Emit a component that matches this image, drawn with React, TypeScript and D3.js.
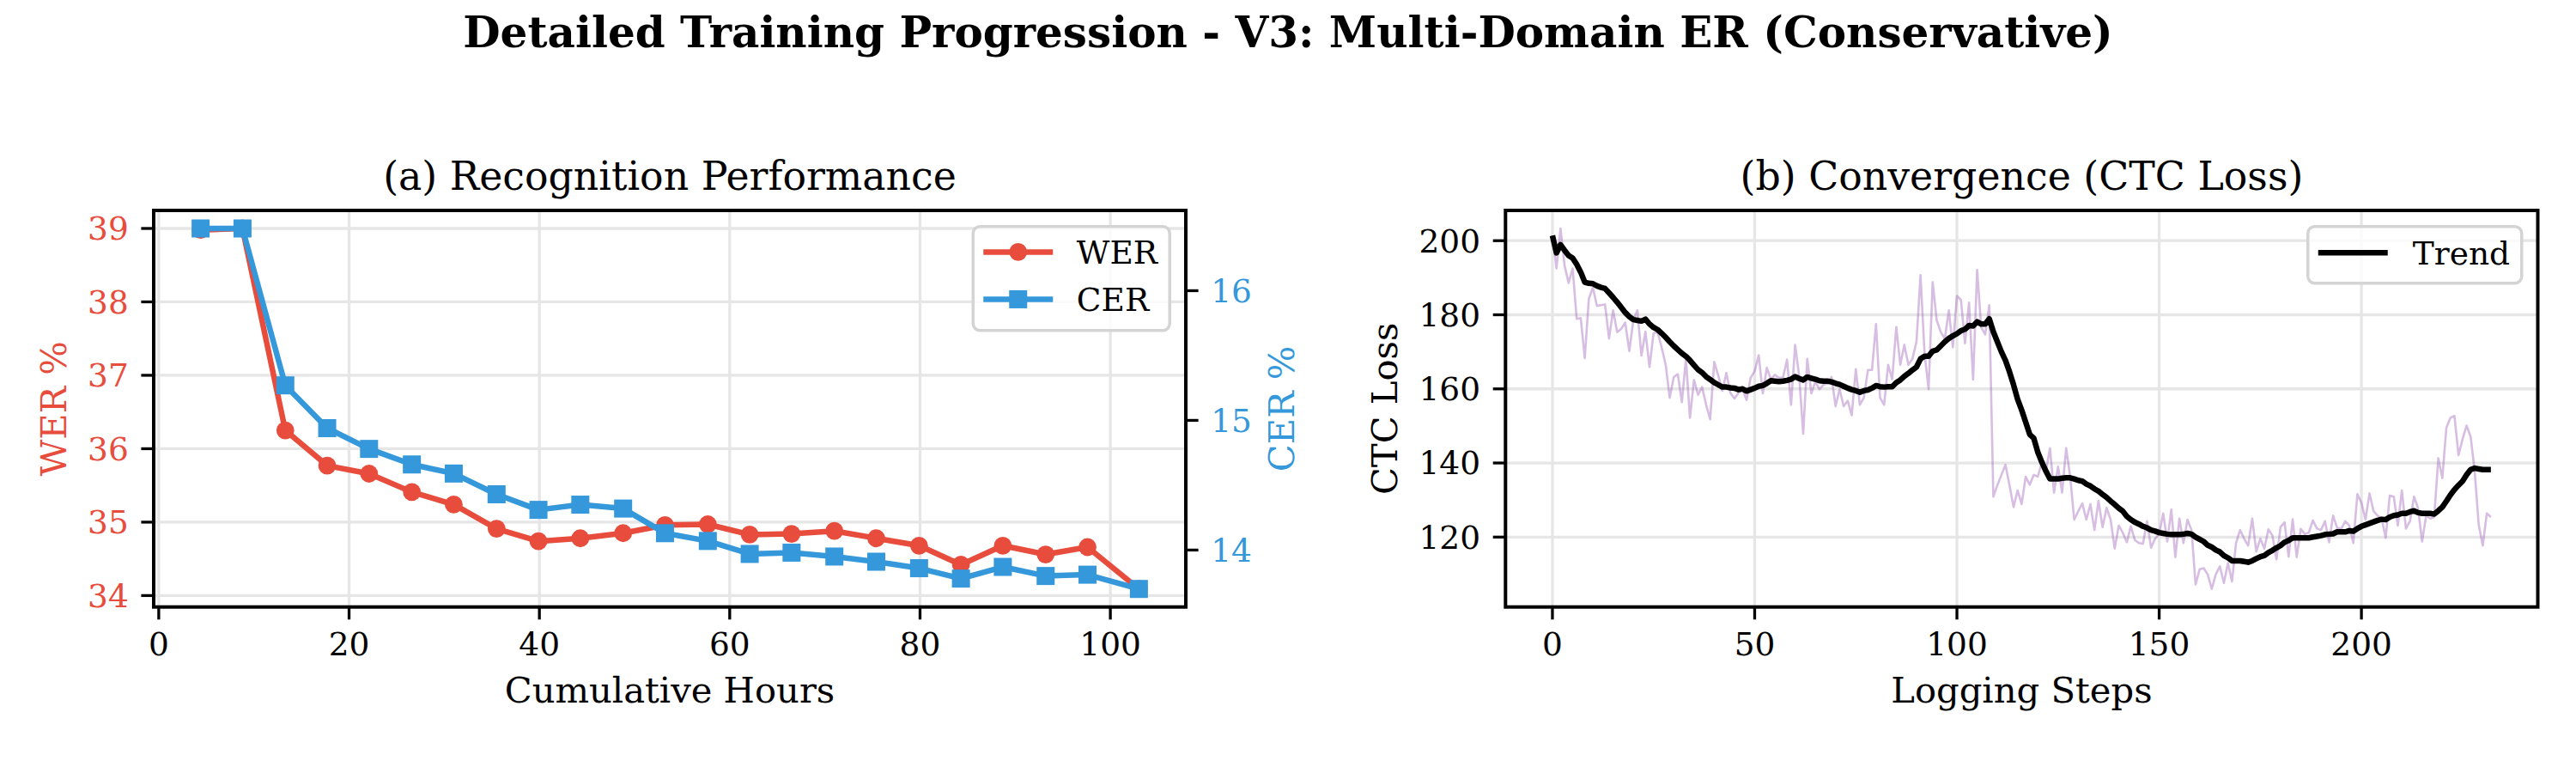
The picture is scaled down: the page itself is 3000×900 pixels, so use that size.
import React from 'react';
import * as d3 from 'd3';

// ---- data ----
const hours = [4.4, 8.8, 13.3, 17.7, 22.1, 26.6, 31.0, 35.5, 39.9, 44.3, 48.8, 53.2, 57.7, 62.1, 66.5, 71.0, 75.4, 79.9, 84.3, 88.7, 93.2, 97.6, 103.0];
const werValues = [38.98, 39.0, 36.25, 35.77, 35.66, 35.41, 35.24, 34.91, 34.74, 34.78, 34.85, 34.96, 34.97, 34.83, 34.84, 34.88, 34.78, 34.68, 34.42, 34.68, 34.56, 34.66, 34.09];
const cerValues = [16.48, 16.48, 15.27, 14.94, 14.78, 14.66, 14.59, 14.43, 14.31, 14.35, 14.32, 14.13, 14.07, 13.97, 13.98, 13.95, 13.91, 13.86, 13.78, 13.87, 13.80, 13.81, 13.70];

const rawLoss = [
  201.4, 192.5, 203.3, 193.3, 188.6, 192.5, 178.9, 179.1, 168.3, 184.3,
  187.4, 182.4, 182.6, 182.8, 173.6, 181.2, 175.3, 176.2, 177.9, 170.2,
  178.5, 181.2, 169.0, 175.4, 165.9, 175.0, 175.4, 171.2, 166.5, 157.6,
  163.2, 164.0, 156.4, 168.1, 152.2, 162.4, 158.4, 160.5, 155.7, 151.8,
  167.3, 163.6, 159.5, 164.3, 158.9, 157.4, 158.9, 159.9, 157.0, 163.0,
  164.8, 169.1, 158.8, 165.7, 162.6, 163.8, 163.0, 163.0, 167.9, 155.7,
  171.9, 163.5, 147.9, 168.1, 158.8, 161.9, 159.9, 161.1, 161.5, 163.2,
  155.3, 159.9, 155.3, 156.8, 152.9, 165.3, 155.7, 157.6, 165.1, 165.1,
  177.5, 157.6, 155.7, 166.5, 162.6, 176.7, 166.5, 171.9, 166.5, 168.1,
  172.7, 190.7, 169.6, 159.9, 188.8, 178.5, 175.4, 173.5, 181.2, 171.2,
  185.1, 184.0, 172.3, 183.3, 162.5, 192.1, 176.6, 174.7, 182.6, 130.9,
  134.0, 136.8, 139.5, 134.0, 128.1, 132.6, 128.9, 136.3, 134.1, 136.8,
  136.3, 140.2, 137.8, 144.0, 132.0, 139.0, 132.0, 144.0, 136.3, 124.7,
  127.0, 129.1, 124.7, 128.9, 121.9, 129.8, 122.7, 127.9, 124.7, 116.9,
  123.1, 121.2, 118.6, 122.9, 119.2, 118.4, 118.2, 124.3, 117.1, 119.6,
  120.8, 126.4, 118.8, 127.4, 114.6, 125.0, 118.4, 124.7, 121.9, 107.2,
  111.3, 111.6, 109.9, 106.0, 109.9, 112.1, 107.6, 113.0, 108.0, 118.4,
  121.9, 119.6, 117.7, 125.0, 116.1, 119.6, 116.9, 122.1, 120.4, 114.0,
  122.7, 124.0, 114.7, 124.8, 114.6, 122.2, 120.8, 121.2, 124.5, 122.3,
  121.9, 124.3, 118.6, 125.8, 122.5, 122.2, 124.3, 123.1, 118.4, 131.6,
  129.3, 124.7, 131.8, 127.0, 125.8, 125.0, 119.8, 131.2, 130.9, 123.1,
  132.6, 122.3, 124.3, 130.9, 127.8, 118.8, 125.8, 125.0, 125.4, 141.3,
  135.9, 149.5, 152.2, 152.7, 142.1, 146.4, 150.1, 147.1, 137.8, 123.3,
  117.7, 126.4, 125.4
];

const trendLoss = [
  201.4, 196.7, 198.9, 197.4, 196.0, 195.3, 193.6, 191.5, 188.8, 188.5,
  188.4, 187.8, 187.4, 187.1, 185.9, 184.7, 183.4, 182.0, 180.6, 179.5,
  178.7, 178.5, 178.3, 178.8, 177.5, 176.6, 176.0, 175.0, 173.9, 172.7,
  171.6, 170.6, 169.6, 168.8, 167.7, 166.4, 165.2, 164.4, 163.3, 162.5,
  161.7, 161.1, 160.5, 160.5, 160.3, 160.2, 159.8, 160.0, 159.4, 159.8,
  160.2, 160.7, 160.9, 161.5, 162.2, 162.1, 162.0, 162.1, 162.3, 162.6,
  163.3, 162.8, 162.4, 163.2, 162.9, 162.6, 162.2, 162.1, 162.1, 161.9,
  161.5, 161.2, 160.7, 160.2, 159.8, 159.5, 159.1, 159.5, 159.7, 160.2,
  160.9, 160.6, 160.5, 160.6, 160.6, 161.7, 162.4, 163.4, 164.2, 165.1,
  165.9, 168.1, 168.8, 168.8, 170.2, 170.5, 171.6, 172.7, 173.6, 174.3,
  174.9, 175.7, 176.1, 177.1, 177.0, 178.1, 177.5, 177.5, 178.9, 175.4,
  172.7, 170.0, 167.7, 164.6, 161.1, 157.2, 154.3, 151.0, 147.7, 146.7,
  142.9, 140.2, 137.8, 135.7, 135.7, 135.7, 135.9, 136.0, 136.0, 135.7,
  135.3, 135.1, 134.3, 133.8, 133.0, 132.4, 131.5, 130.7, 129.7, 128.8,
  127.8, 127.0, 125.6, 124.7, 124.0, 123.5, 122.9, 122.5, 121.9, 121.6,
  121.2, 121.0, 120.8, 120.7, 120.7, 120.7, 120.8, 121.0, 120.8, 120.0,
  119.4, 118.8, 117.8, 117.3, 116.5, 116.0, 115.0, 114.4, 113.6, 113.6,
  113.6, 113.4, 113.2, 113.6, 114.2, 114.7, 115.0, 115.8, 116.4, 117.1,
  117.7, 118.6, 119.1, 119.8, 119.8, 119.8, 119.8, 119.8, 120.0, 120.2,
  120.4, 120.7, 120.8, 120.9, 121.4, 121.4, 121.4, 121.7, 121.6, 122.3,
  122.9, 123.3, 123.7, 124.1, 124.5, 124.8, 124.7, 125.4, 125.8, 126.0,
  126.4, 126.4, 126.8, 127.1, 126.6, 126.4, 126.4, 126.4, 126.2, 127.1,
  128.1, 129.7, 131.4, 132.8, 134.0, 135.1, 136.8, 138.2, 138.6, 138.4,
  138.2, 138.2, 138.2
];

const hourTicks = [0, 20, 40, 60, 80, 100];
const werTicks = [34, 35, 36, 37, 38, 39];
const cerTicks = [14, 15, 16];
const stepTicks = [0, 50, 100, 150, 200];
const lossTicks = [120, 140, 160, 180, 200];

// ---- styling ----
const RED = '#e74c3c';
const BLUE = '#3498db';
const PURPLE = '#9b59b6';
const GRID = '#e6e6e6';
const FONT = '"DejaVu Serif", serif';
const TICK_FS = 37.5;
const LABEL_FS = 41.7;
const TITLE_FS = 45.8;
const TICK_LEN = 14.6;
const PAD = 14.6;

const panelA = { left: 179, right: 1381, top: 245, bottom: 706.7 };
const panelB = { left: 1753.3, right: 2955.5, top: 245, bottom: 706.7 };

// matplotlib-like 5% auto margins
const padded = (vals: number[]): [number, number] => {
  const [lo, hi] = d3.extent(vals) as [number, number];
  const m = (hi - lo) * 0.05;
  return [lo - m, hi + m];
};

const App = () => {
  const steps = rawLoss.map((_, i) => i);

  // panel (a) scales
  const xA = d3.scaleLinear().domain(padded(hours)).range([panelA.left, panelA.right]);
  const yWer = d3.scaleLinear().domain(padded(werValues)).range([panelA.bottom, panelA.top]);
  const yCer = d3.scaleLinear().domain(padded(cerValues)).range([panelA.bottom, panelA.top]);

  // panel (b) scales
  const xB = d3.scaleLinear().domain(padded(steps)).range([panelB.left, panelB.right]);
  const yLoss = d3.scaleLinear().domain(padded(rawLoss)).range([panelB.bottom, panelB.top]);

  const werLine = d3.line<number>().x((_, i) => xA(hours[i])).y(d => yWer(d))(werValues) || '';
  const cerLine = d3.line<number>().x((_, i) => xA(hours[i])).y(d => yCer(d))(cerValues) || '';
  const rawLine = d3.line<number>().x((_, i) => xB(steps[i])).y(d => yLoss(d))(rawLoss) || '';
  const trendLine = d3.line<number>().x((_, i) => xB(steps[i])).y(d => yLoss(d))(trendLoss) || '';

  const sq = 21;

  const frame = (p: typeof panelA) => (
    <rect x={p.left} y={p.top} width={p.right - p.left} height={p.bottom - p.top}
      fill="none" stroke="#000" strokeWidth={4} />
  );

  const xAxis = (p: typeof panelA, scale: d3.ScaleLinear<number, number>, ticks: number[]) => (
    <g>
      {ticks.map(t => (
        <g key={t}>
          <line x1={scale(t)} x2={scale(t)} y1={p.bottom} y2={p.bottom + TICK_LEN} stroke="#000" strokeWidth={3.3} />
          <text x={scale(t)} y={p.bottom + TICK_LEN + PAD + 27} textAnchor="middle" fontSize={TICK_FS} fontFamily={FONT}>{t}</text>
        </g>
      ))}
    </g>
  );

  const yAxisLeft = (p: typeof panelA, scale: d3.ScaleLinear<number, number>, ticks: number[], color: string) => (
    <g>
      {ticks.map(t => (
        <g key={t}>
          <line x1={p.left - TICK_LEN} x2={p.left} y1={scale(t)} y2={scale(t)} stroke="#000" strokeWidth={3.3} />
          <text x={p.left - TICK_LEN - PAD} y={scale(t) + 13.3} textAnchor="end" fontSize={TICK_FS} fontFamily={FONT} fill={color}>{t}</text>
        </g>
      ))}
    </g>
  );

  const yAxisRight = (p: typeof panelA, scale: d3.ScaleLinear<number, number>, ticks: number[], color: string) => (
    <g>
      {ticks.map(t => (
        <g key={t}>
          <line x1={p.right} x2={p.right + TICK_LEN} y1={scale(t)} y2={scale(t)} stroke="#000" strokeWidth={3.3} />
          <text x={p.right + TICK_LEN + PAD} y={scale(t) + 13.3} textAnchor="start" fontSize={TICK_FS} fontFamily={FONT} fill={color}>{t}</text>
        </g>
      ))}
    </g>
  );

  const grid = (p: typeof panelA, xs: d3.ScaleLinear<number, number>, xt: number[], ys: d3.ScaleLinear<number, number>, yt: number[]) => (
    <g stroke={GRID} strokeWidth={3.3}>
      {xt.map(t => <line key={'x' + t} x1={xs(t)} x2={xs(t)} y1={p.top} y2={p.bottom} />)}
      {yt.map(t => <line key={'y' + t} x1={p.left} x2={p.right} y1={ys(t)} y2={ys(t)} />)}
    </g>
  );

  const cxA = (panelA.left + panelA.right) / 2;
  const cxB = (panelB.left + panelB.right) / 2;
  const cy = (panelA.top + panelA.bottom) / 2;

  // legend boxes (upper right, borderaxespad 0.5em)
  const legA = { x: panelA.right - 18.75 - 229, y: panelA.top + 18.75, w: 229, h: 121 };
  const legB = { x: panelB.right - 18.75 - 249, y: panelB.top + 18.75, w: 249, h: 66 };

  return (
    <svg width={3000} height={900} style={{ position: 'absolute', left: 0, top: 0, background: '#fff' }}>
      <rect x={0} y={0} width={3000} height={900} fill="#fff" />
      <text x={1500} y={55} textAnchor="middle" fontSize={50} fontWeight="bold" fontFamily={FONT}>
        Detailed Training Progression - V3: Multi-Domain ER (Conservative)
      </text>

      {/* ---- (a) Recognition Performance ---- */}
      <text x={cxA} y={220.7} textAnchor="middle" fontSize={TITLE_FS} fontFamily={FONT}>(a) Recognition Performance</text>
      {grid(panelA, xA, hourTicks, yWer, werTicks)}
      <path d={werLine} fill="none" stroke={RED} strokeWidth={6.5} strokeLinejoin="round" />
      {werValues.map((v, i) => (
        <circle key={i} cx={xA(hours[i])} cy={yWer(v)} r={10.4} fill={RED} />
      ))}
      <path d={cerLine} fill="none" stroke={BLUE} strokeWidth={6.5} strokeLinejoin="round" />
      {cerValues.map((v, i) => (
        <rect key={i} x={xA(hours[i]) - sq / 2} y={yCer(v) - sq / 2} width={sq} height={sq} fill={BLUE} />
      ))}
      {frame(panelA)}
      {xAxis(panelA, xA, hourTicks)}
      {yAxisLeft(panelA, yWer, werTicks, RED)}
      {yAxisRight(panelA, yCer, cerTicks, BLUE)}
      <text x={cxA} y={818.3} textAnchor="middle" fontSize={LABEL_FS} fontFamily={FONT}>Cumulative Hours</text>
      <text transform={`translate(76.6, ${cy}) rotate(-90)`} textAnchor="middle" fontSize={LABEL_FS} fontFamily={FONT} fill={RED}>WER %</text>
      <text transform={`translate(1507, ${cy}) rotate(-90)`} textAnchor="middle" fontSize={LABEL_FS} fontFamily={FONT} fill={BLUE}>CER %</text>

      <g>
        <rect x={legA.x} y={legA.y} width={legA.w} height={legA.h} rx={8} fill="#fff" fillOpacity={0.8} stroke="#d4d4d4" strokeWidth={3.5} />
        <line x1={legA.x + 12} x2={legA.x + 93} y1={legA.y + 29.7} y2={legA.y + 29.7} stroke={RED} strokeWidth={6.5} />
        <circle cx={legA.x + 52.5} cy={legA.y + 29.7} r={10.4} fill={RED} />
        <text x={legA.x + 120.6} y={legA.y + 29.7 + 13.5} fontSize={TICK_FS} fontFamily={FONT}>WER</text>
        <line x1={legA.x + 12} x2={legA.x + 93} y1={legA.y + 84.7} y2={legA.y + 84.7} stroke={BLUE} strokeWidth={6.5} />
        <rect x={legA.x + 52.5 - sq / 2} y={legA.y + 84.7 - sq / 2} width={sq} height={sq} fill={BLUE} />
        <text x={legA.x + 120.6} y={legA.y + 84.7 + 13.5} fontSize={TICK_FS} fontFamily={FONT}>CER</text>
      </g>

      {/* ---- (b) Convergence ---- */}
      <text x={cxB} y={220.7} textAnchor="middle" fontSize={TITLE_FS} fontFamily={FONT}>(b) Convergence (CTC Loss)</text>
      {grid(panelB, xB, stepTicks, yLoss, lossTicks)}
      <path d={rawLine} fill="none" stroke={PURPLE} strokeOpacity={0.4} strokeWidth={2.6} strokeLinejoin="round" />
      <path d={trendLine} fill="none" stroke="#000" strokeWidth={6.5} strokeLinejoin="round" />
      {frame(panelB)}
      {xAxis(panelB, xB, stepTicks)}
      {yAxisLeft(panelB, yLoss, lossTicks, '#000')}
      <text x={cxB} y={818.3} textAnchor="middle" fontSize={LABEL_FS} fontFamily={FONT}>Logging Steps</text>
      <text transform={`translate(1626.6, ${cy}) rotate(-90)`} textAnchor="middle" fontSize={LABEL_FS} fontFamily={FONT}>CTC Loss</text>

      <g>
        <rect x={legB.x} y={legB.y} width={legB.w} height={legB.h} rx={8} fill="#fff" fillOpacity={0.8} stroke="#d4d4d4" strokeWidth={3.5} />
        <line x1={legB.x + 12} x2={legB.x + 93} y1={legB.y + 30.4} y2={legB.y + 30.4} stroke="#000" strokeWidth={6.5} />
        <text x={legB.x + 122} y={legB.y + 30.4 + 13.5} fontSize={TICK_FS} fontFamily={FONT}>Trend</text>
      </g>
    </svg>
  );
};

export default App;
